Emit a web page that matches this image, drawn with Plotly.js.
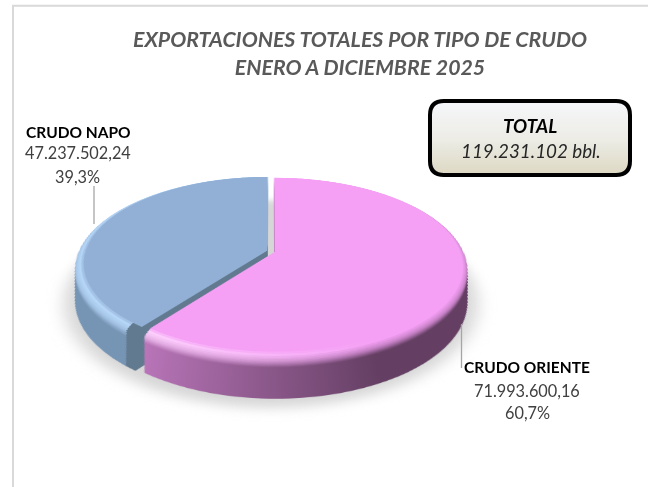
<!DOCTYPE html>
<html><head><meta charset="utf-8">
<script src="https://cdn.plot.ly/plotly-3.0.0.min.js"></script>
<style>
html,body{margin:0;padding:0;background:#fff;}
#gd{width:648px;height:487px;}
/* tilt only the paper holding the pies; text and boxes sit in the upper paper */
#gd .svg-container > svg.main-svg:first-of-type{
  transform-origin:271px 200px;
  transform:translateY(55px) perspective(1084px) rotateX(62deg);
}
</style></head><body><div id="gd"></div>
<script>
var categories=['CRUDO ORIENTE','CRUDO NAPO'];
var values=[71993600.16,47237502.24];
var valueLabels=['71.993.600,16','47.237.502,24'];
var pctLabels=['60,7%','39,3%'];
var totalLabel='119.231.102 bbl.';
var titleLines=['EXPORTACIONES TOTALES POR TIPO DE CRUDO','ENERO A DICIEMBRE 2025'];

var W=648,H=487,cx=271,cy=192,R=191,pull=0.022,depth=72,step=1.5,D=1084,SIN=0.883,BEV=10,INSET=8;
function inset(sh){ if(sh>=BEV) return 0; var u=1-sh/BEV; return INSET*u*u; }
function pieTrace(colors,shift,pulls,grow){
  var comp=1-shift*SIN/D;                       // keeps the wall upright under the tilt
  var r=(R-inset(shift)+(grow||0))*(1+(pulls?pull:0))*comp;
  return {type:'pie',labels:categories,values:values,sort:false,direction:'clockwise',rotation:0,
    textinfo:'none',hoverinfo:'skip',showlegend:false,pull:pulls?pull:0,
    marker:{colors:colors,line:{width:0}},
    domain:{x:[(cx-r)/W,(cx+r)/W],y:[1-(cy+shift+r)/H,1-(cy+shift-r)/H]}};
}
var T='rgba(0,0,0,0)',traces=[];
traces.push(pieTrace(['#d6d6d6','#d6d6d6'],depth,false,14));       // ground shadow
var s,n=Math.round(depth/step)+1,k;
for(k=0;k<n;k++){ s=depth-k*step; traces.push(pieTrace([T,'#7d9cbc'],s,true)); }
for(k=0;k<n;k++){ s=depth-k*step; traces.push(pieTrace(['#c07cc0',T],s,true)); }

function mix(a,b,t){return 'rgb('+a.map(function(v,i){return Math.round(v+(b[i]-v)*t);}).join(',')+')';}
// colour of a rim layer: face -> highlight -> wall as the depth grows
function rimColor(face,hi,wall,sh){
  var P=3, E=20;
  if(sh<=P){ return mix(face,hi,sh/P); }
  if(sh>=E){ return mix(wall,wall,0); }
  return mix(hi,wall,(sh-P)/(E-P));
}
var layout={width:W,height:H,margin:{l:0,r:0,t:0,b:0},paper_bgcolor:'rgba(0,0,0,0)',plot_bgcolor:'rgba(0,0,0,0)',
  title:{text:titleLines.join('<br>'),x:360/648,xanchor:'center',y:1-47/487,yanchor:'middle',
    font:{family:'Lato',size:21.3,color:'#595959',weight:700,style:'italic'}},
  shapes:[
    {type:'line',xref:'paper',yref:'paper',x0:13/W,x1:13/W,y0:0,y1:1-5/H,line:{color:'#d9d9d9',width:2}},
    {type:'line',xref:'paper',yref:'paper',x0:12/W,x1:1,y0:1-5.8/H,y1:1-5.8/H,line:{color:'#d9d9d9',width:2}},
    {type:'line',xref:'paper',yref:'paper',x0:94/W,x1:94/W,y0:1-186/H,y1:1-224/H,line:{color:'#a6a6a6',width:1.3}},
    {type:'line',xref:'paper',yref:'paper',x0:461.5/W,x1:461.5/W,y0:1-324/H,y1:1-368/H,line:{color:'#a6a6a6',width:1.3}},
    {type:'path',xref:'paper',yref:'paper',path:'M 0 0',line:{color:'#000',width:4},fillcolor:'#e9e7dc'}
  ],
  annotations:[]};
var rr=14,bx0=430,bx1=630,by0=101,by1=175;
function px(x){return (x/W).toFixed(5);} function py(y){return (1-y/H).toFixed(5);}
layout.shapes[4].path='M '+px(bx0+rr)+' '+py(by0)+' L '+px(bx1-rr)+' '+py(by0)+' Q '+px(bx1)+' '+py(by0)+' '+px(bx1)+' '+py(by0+rr)+
 ' L '+px(bx1)+' '+py(by1-rr)+' Q '+px(bx1)+' '+py(by1)+' '+px(bx1-rr)+' '+py(by1)+' L '+px(bx0+rr)+' '+py(by1)+
 ' Q '+px(bx0)+' '+py(by1)+' '+px(bx0)+' '+py(by1-rr)+' L '+px(bx0)+' '+py(by0+rr)+' Q '+px(bx0)+' '+py(by0)+' '+px(bx0+rr)+' '+py(by0)+' Z';
function ann(text,x,y,size,color,bold,ital){
  layout.annotations.push({text:text,xref:'paper',yref:'paper',x:x/W,y:1-y/H,showarrow:false,xanchor:'center',yanchor:'middle',
    font:{family:'Lato',size:size,color:color,weight:bold?700:400,style:ital?'italic':'normal'}});
}
ann(categories[1],78,132,15.5,'#000',true);
ann(valueLabels[1],78,153,16.3,'#404040');
ann(pctLabels[1],77,176,16.3,'#404040');
ann(categories[0],527,367,15.5,'#000',true);
ann(valueLabels[0],527,390,16.3,'#404040');
ann(pctLabels[0],527,412,16.3,'#404040');
ann('TOTAL',530,126,18.8,'#000',true,true);
ann(totalLabel,531,150,18.8,'#262626',false,true);

Plotly.newPlot('gd',traces,layout,{displayModeBar:false,staticPlot:true}).then(function(gd){
  var svg=gd.querySelector('svg.main-svg'),NS='http://www.w3.org/2000/svg';
  var defs=svg.querySelector('defs');
  function grad(id,x1,y1,x2,y2,stops,target){
    var g=document.createElementNS(NS,'linearGradient');
    g.setAttribute('id',id);
    if(x1!==null){g.setAttribute('gradientUnits','userSpaceOnUse');g.setAttribute('x1',x1);g.setAttribute('y1',y1);g.setAttribute('x2',x2);g.setAttribute('y2',y2);}
    else{g.setAttribute('x1',0);g.setAttribute('y1',0);g.setAttribute('x2',0);g.setAttribute('y2',1);}
    stops.forEach(function(st){var e=document.createElementNS(NS,'stop');e.setAttribute('offset',st[0]);e.setAttribute('stop-color',st[1]);g.appendChild(e);});
    (target||defs).appendChild(g);
  }
  var f=document.createElementNS(NS,'filter');f.setAttribute('id','gblur');
  f.setAttribute('x','-20%');f.setAttribute('y','-20%');f.setAttribute('width','140%');f.setAttribute('height','140%');
  var b=document.createElementNS(NS,'feGaussianBlur');b.setAttribute('stdDeviation','8');f.appendChild(b);defs.appendChild(f);

  var groups=svg.querySelectorAll('.pielayer .trace');
  groups[0].setAttribute('filter','url(#gblur)');
  var nx=-0.783,ny=-0.622;
  for(var i=0;i<n;i++){
    var sh=depth-i*step;   // sh 0 = top face, sh=depth = base of wall
    var bs=groups[1+i].querySelectorAll('path.surface');
    var ax=cx-4, ay=cy+sh-1;
    var wallB=rimColor([146,176,214],[182,214,248],[118,148,180],sh), cut='#627a90';
    if(sh===0){ bs[1].style.fill='#92b0d6'; }
    else{
      grad('b'+i,ax,ay,ax+nx*18,ay+ny*18,[[0,cut],[0.45,cut],[0.46,wallB],[1,wallB]],defs);
      bs[1].style.fill='url(#b'+i+')';
    }
    var ps=groups[1+n+i].querySelectorAll('path.surface');
    if(sh===0){ ps[0].style.fill='#f5a0f5'; }
    else{
      var L=rimColor([245,160,245],[253,212,253],[192,122,192],sh),
          M=rimColor([245,160,245],[245,160,245],[100,63,99],sh);
      grad('p'+i,145,0,360,0,[[0,L],[1,M]],defs);
      ps[0].style.fill='url(#p'+i+')';
    }
  }
  var top=gd.querySelectorAll('svg.main-svg')[1];
  var tdefs=document.createElementNS(NS,'defs');top.insertBefore(tdefs,top.firstChild);
  grad('boxg',null,0,0,0,[[0,'#f6f7fb'],[0.55,'#ecebe4'],[1,'#dcd8c2']],tdefs);
  top.querySelectorAll('.shapelayer path').forEach(function(p){
    if(p.getAttribute('d').indexOf('Q')>=0) p.style.fill='url(#boxg)';
  });
});
</script></body></html>
